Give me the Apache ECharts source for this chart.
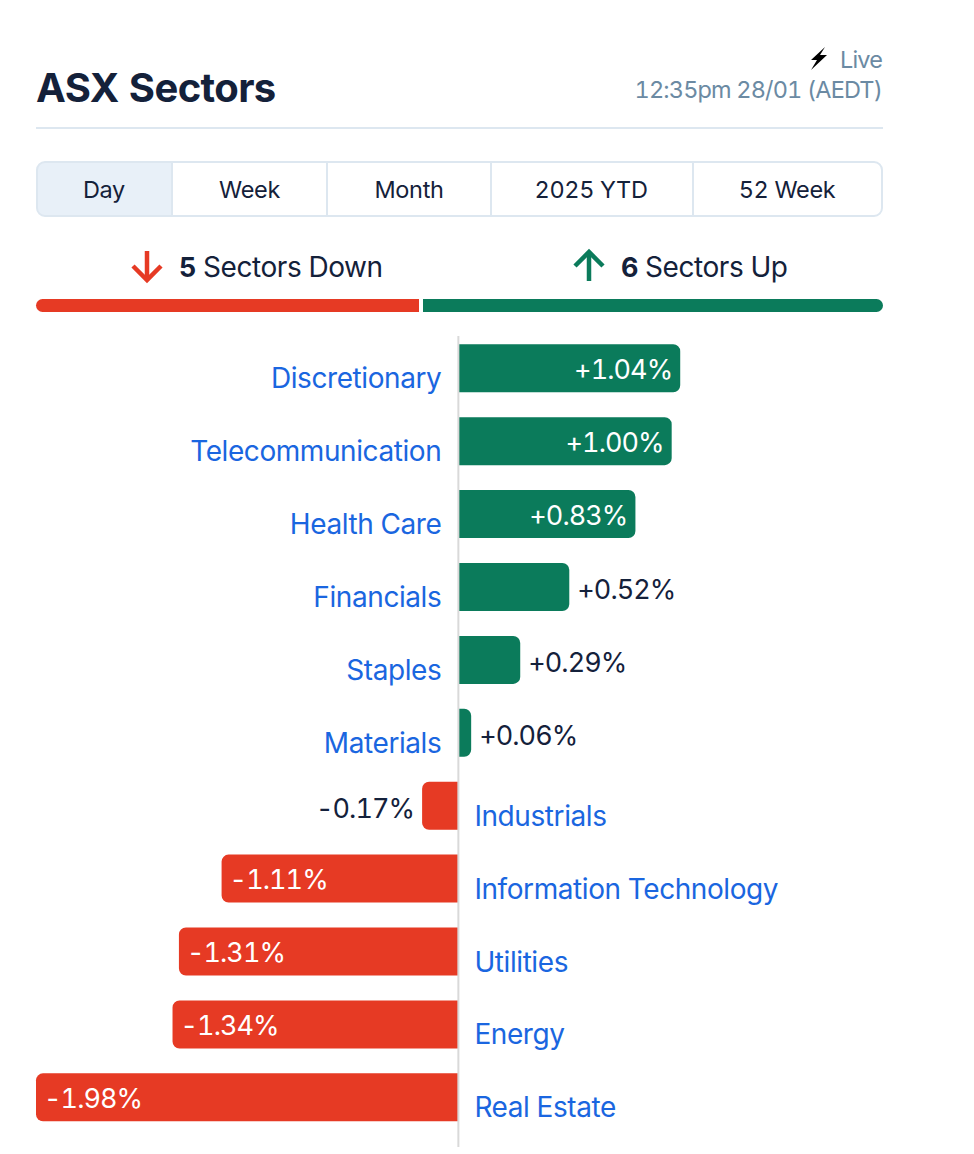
<!DOCTYPE html>
<html>
<head>
<meta charset="utf-8">
<title>ASX Sectors</title>
<script src="https://cdn.jsdelivr.net/npm/echarts@6/dist/echarts.min.js"></script>
<style>
  html, body { margin: 0; padding: 0; background: #fff; }
  #chart { width: 974px; height: 1154px; }
  #chart text { font-feature-settings: "tnum"; letter-spacing: -0.015em; }
  #chart text[fill="#6b8aa3"] { letter-spacing: -0.036em; }
  #chart text[fill="#ffffff"], #chart text[fill="#fff"], #chart text[fill="#14213b"] { letter-spacing: -0.035em; }
</style>
</head>
<body>
<div id="chart"></div>
<script>
const GREEN = "#0b7b5b";
const RED = "#e63a24";
const BLUE = "#1a66e0";
const INK = "#14213a";
const VALUE_INK = "#14213b";
const SLATE = "#6b8aa3";
const RULE = "#dde7f0";
const FONT = "Inter";

const sectors = [
  { name: "Discretionary", value: 1.04 },
  { name: "Telecommunication", value: 1.0 },
  { name: "Health Care", value: 0.83 },
  { name: "Financials", value: 0.52 },
  { name: "Staples", value: 0.29 },
  { name: "Materials", value: 0.06 },
  { name: "Industrials", value: -0.17 },
  { name: "Information Technology", value: -1.11 },
  { name: "Utilities", value: -1.31 },
  { name: "Energy", value: -1.34 },
  { name: "Real Estate", value: -1.98 },
];

const tabs = [
  { label: "Day", cx: 104 },
  { label: "Week", cx: 249.5 },
  { label: "Month", cx: 409 },
  { label: "2025 YTD", cx: 591 },
  { label: "52 Week", cx: 787 },
];
const tabDividers = [172, 327, 491, 693];

function formatPct(v) {
  return (v > 0 ? "+" : "") + v.toFixed(2) + "%";
}

function valueLabel(v) {
  const inside = Math.abs(v) > 0.6;
  let position;
  if (v > 0) position = inside ? "insideRight" : "right";
  else position = inside ? "insideLeft" : "left";
  return {
    show: true,
    position,
    distance: 8,
    color: inside ? "#fff" : VALUE_INK,
    offset: [0, inside ? 1 : 3],
    fontFamily: FONT,
    fontSize: 27,
    formatter: () => formatPct(v),
  };
}

function text(x, y, str, style) {
  return {
    type: "text",
    x,
    y,
    style: Object.assign(
      { text: str, fontFamily: FONT, fontSize: 24, fill: INK, align: "center", verticalAlign: "middle" },
      style
    ),
  };
}

const header = [
  text(36, 87, "ASX Sectors", { fontSize: 40, fontWeight: 700, align: "left" }),
  text(882, 59, "Live", { fontSize: 23.5, fill: SLATE, align: "right" }),
  text(882, 89, "12:35pm 28/01 (AEDT)", { fontSize: 23.5, fill: SLATE, align: "right" }),
  {
    type: "polygon",
    shape: { points: [[825, 47], [811, 60], [817, 60], [811, 70], [827, 55], [820, 55]] },
    style: { fill: "#000" },
  },
  { type: "line", shape: { x1: 36, y1: 128, x2: 883, y2: 128 }, style: { stroke: RULE, lineWidth: 2 } },

  { type: "rect", shape: { x: 37, y: 162, width: 135, height: 54, r: [8, 0, 0, 8] }, style: { fill: "#e8f0f8" } },
  { type: "rect", shape: { x: 37, y: 162, width: 845, height: 54, r: 8 }, style: { fill: "none", stroke: RULE, lineWidth: 2 } },
  ...tabDividers.map((x) => ({
    type: "line",
    shape: { x1: x, y1: 162, x2: x, y2: 216 },
    style: { stroke: RULE, lineWidth: 2 },
  })),
  ...tabs.map((t) => text(t.cx, 189, t.label, { fontSize: 23.5 })),

  { type: "polyline", shape: { points: [[147, 251], [147, 280]] }, style: { stroke: RED, lineWidth: 4.5, fill: "none" } },
  { type: "polyline", shape: { points: [[133, 266], [147, 280], [161, 266]] }, style: { stroke: RED, lineWidth: 4.5, fill: "none" } },
  text(179, 267, "5", { fontSize: 27, fontWeight: 700, align: "left" }),
  text(203, 267, "Sectors Down", { fontSize: 28, align: "left" }),

  { type: "polyline", shape: { points: [[589, 281], [589, 252]] }, style: { stroke: GREEN, lineWidth: 4.5, fill: "none" } },
  { type: "polyline", shape: { points: [[575, 266], [589, 252], [603, 266]] }, style: { stroke: GREEN, lineWidth: 4.5, fill: "none" } },
  text(621, 267, "6", { fontSize: 27, fontWeight: 700, align: "left" }),
  text(645, 267, "Sectors Up", { fontSize: 28, align: "left" }),

  { type: "rect", shape: { x: 36, y: 299, width: 383, height: 13, r: [6.5, 0, 0, 6.5] }, style: { fill: RED } },
  { type: "rect", shape: { x: 423, y: 299, width: 460, height: 13, r: [0, 6.5, 6.5, 0] }, style: { fill: GREEN } },
];

const chart = echarts.init(document.getElementById("chart"), null, { renderer: "svg" });

const option = {
  animation: false,
  backgroundColor: "#fff",
  grid: { left: 36, right: 89, top: 331.8, height: 802, containLabel: false },
  xAxis: { type: "value", min: -1.98, max: 2, show: false },
  yAxis: {
    type: "category",
    inverse: true,
    data: sectors.map((s) => s.name),
    axisLine: { show: false },
    axisTick: { show: false },
    axisLabel: { show: false },
  },
  series: [
    {
      name: "Change",
      type: "bar",
      barWidth: 48,
      barGap: "-100%",
      data: sectors.map((s) => ({
        value: s.value,
        itemStyle: {
          color: s.value > 0 ? GREEN : RED,
          borderRadius: s.value > 0 ? [0, 7, 7, 0] : [7, 0, 0, 7],
        },
        label: valueLabel(s.value),
      })),
    },
    {
      // zero-length bars, only here to hang the sector names off the axis
      name: "Sector",
      type: "bar",
      barWidth: 48,
      barGap: "-100%",
      silent: true,
      itemStyle: { color: "transparent" },
      data: sectors.map((s) => ({
        value: s.value > 0 ? -0.0001 : 0.0001,
        label: {
          show: true,
          position: s.value > 0 ? "left" : "right",
          distance: s.value > 0 ? 17 : 16,
          offset: [0, 10],
          color: BLUE,
          fontFamily: FONT,
          fontSize: 28,
          formatter: () => s.name,
        },
      })),
    },
  ],
  graphic: header,
};

chart.setOption(option);

// zero line runs a little past the bars, top and bottom
const zeroX = chart.convertToPixel({ xAxisIndex: 0 }, 0);
chart.setOption({
  graphic: header.concat([
    {
      type: "line",
      z: 100,
      shape: { x1: zeroX, y1: 336, x2: zeroX, y2: 1147 },
      style: { stroke: "#d9d9d9", lineWidth: 2 },
    },
  ]),
});
</script>
</body>
</html>
